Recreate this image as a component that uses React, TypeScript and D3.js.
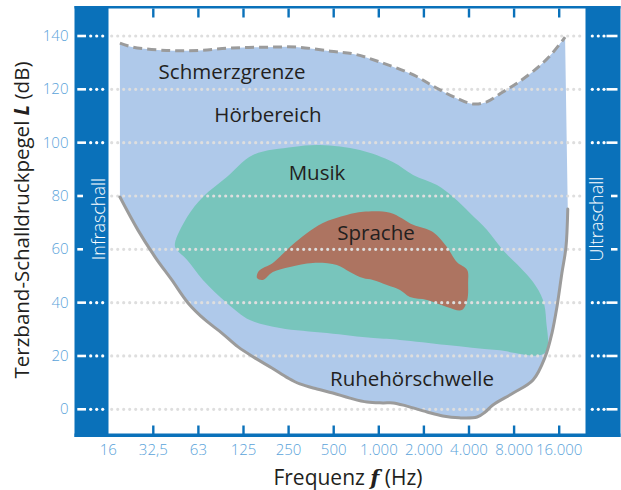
import React from "react";
import * as d3 from "d3";

// ---------- data ----------
const xTickLabels = ["16", "32,5", "63", "125", "250", "500", "1.000", "2.000", "4.000", "8.000", "16.000"];
const yTicks = [0, 20, 40, 60, 80, 100, 120, 140];

// Schmerzgrenze (octave index from 16 Hz, dB)
const painOct = [0.26, 0.55, 1.29, 2.02, 2.74, 3.49, 4.21, 4.93, 5.46, 6.03, 6.78, 7.28, 7.72, 8.09, 8.38, 8.75, 9.1, 9.54, 9.85, 10.13];
const painDb = [137.3, 135.8, 134.6, 134.6, 135.5, 135.8, 135.8, 134.3, 133.2, 130.2, 125.3, 120.5, 116.7, 114.5, 115.2, 119, 122.7, 128.4, 133.6, 139.6];

// Ruhehörschwelle
const threshOct = [0.26, 0.66, 1.04, 1.41, 1.77, 2.15, 2.52, 2.88, 3.26, 3.63, 3.99, 4.25, 4.63, 4.98, 5.36, 5.74, 6.09, 6.32, 6.62, 7.07, 7.42, 7.78, 8.18, 8.36, 8.53, 8.98, 9.42, 9.69, 9.84, 9.95, 10.06, 10.15, 10.19];
const threshDb = [79.6, 67.2, 57.1, 48.5, 39.9, 33.5, 28.6, 23.4, 19.2, 15.5, 11.7, 9.5, 7.6, 6.1, 4.2, 2.7, 2.4, 2.4, 1.2, -1.0, -2.5, -3.2, -2.9, -1.0, 1.6, 6.1, 11.0, 19.7, 28.6, 38.4, 51.1, 60.8, 75.1];

// Musik (closed outline)
const musicOct = [1.48, 1.75, 2.1, 2.63, 3.21, 4.1, 4.7, 5.58, 6.31, 6.76, 7.29, 7.65, 8.02, 8.4, 8.75, 9.13, 9.42, 9.64, 9.71, 9.68, 8.62, 7.51, 6.47, 5.88, 4.85, 3.81, 3.14, 2.63, 2.1, 1.75, 1.5];
const musicDb = [62.3, 72.1, 79.6, 87.1, 95.4, 98.4, 99.1, 97.2, 92.7, 87.9, 84.1, 79.6, 73.6, 67.2, 59.7, 53.3, 47.7, 41.0, 33.5, 21.1, 22.2, 24.1, 26.0, 26.7, 28.6, 30.5, 33.5, 39.9, 48.5, 56.0, 60.3];

// Sprache (closed outline)
const speechOct = [3.3, 3.34, 3.65, 4.03, 4.41, 4.76, 5.29, 5.65, 6.25, 6.76, 7.2, 7.51, 7.73, 7.96, 7.98, 7.96, 7.84, 7.51, 7.07, 6.69, 6.47, 6.18, 5.87, 5.65, 5.36, 5.07, 4.54, 4.03, 3.65, 3.43];
const speechDb = [49.2, 51.9, 54.9, 60.9, 66.1, 69.9, 72.9, 74.1, 73.7, 69.2, 66.5, 60.9, 55.2, 52.2, 47.4, 41.0, 37.2, 38.4, 41.0, 42.1, 44.7, 46.6, 48.5, 49.2, 51.5, 54.1, 54.9, 53.4, 51.5, 48.5];

// ---------- layout ----------
const W = 621;
const H = 490;
const FONT = "'Open Sans', sans-serif";
const BLUE = "#0a71ba";
const TICKBLUE = "#5aa3da";
const LIGHT = "#afc9ea";
const TEAL = "#78c5bc";
const BROWN = "#ad7461";
const GRAYLINE = "#9b9b9b";
const GRID = "#dedede";
const TEXT = "#231f20";

const plotL = 108.5;
const plotR = 585.5;
const plotT = 8.5;
const plotB = 434.5;

export default function App() {
  const x = d3.scaleLinear().domain([0, 10]).range([108.2, 559.2]);
  const y = d3.scaleLinear().domain([0, 140]).range([409.3, 36]);

  const toPts = (xs: number[], ys: number[]) => xs.map((v, i) => [x(v), y(ys[i])] as [number, number]);
  const open = d3.line().curve(d3.curveCatmullRom.alpha(0.5));
  const closed = d3.line().curve(d3.curveCatmullRomClosed.alpha(0.5));

  const painPts = toPts(painOct, painDb);
  const threshPts = toPts(threshOct, threshDb);
  const hearPath =
    (open(painPts) as string) +
    (open(threshPts.slice().reverse()) as string).replace(/^M/, "L") +
    "Z";

  const musicPath = closed(toPts(musicOct, musicDb)) as string;
  const speechPath = closed(toPts(speechOct, speechDb)) as string;

  const leftBandL = 74.5;
  const rightBandR = 620.5;

  return (
    <svg width={W} height={H} style={{ position: "absolute", left: 0, top: 0, background: "#fff" }} fontFamily={FONT}>
      {/* frame bands */}
      <rect x={leftBandL} y={6} width={plotL - leftBandL} height={431} fill={BLUE} />
      <rect x={plotR} y={6} width={rightBandR - plotR} height={431} fill={BLUE} />
      <rect x={leftBandL} y={6} width={rightBandR - leftBandL} height={plotT - 6} fill={BLUE} />
      <rect x={leftBandL} y={plotB - 1} width={rightBandR - leftBandL} height={437 - plotB + 1} fill={BLUE} />

      {/* areas */}
      <path d={hearPath} fill={LIGHT} />
      <path d={musicPath} fill={TEAL} />
      <path d={speechPath} fill={BROWN} />

      {/* grid dotted lines */}
      {yTicks.map((t) => (
        <line
          key={"g" + t}
          x1={111.7}
          x2={583}
          y1={y(t)}
          y2={y(t)}
          stroke={GRID}
          strokeWidth={3.2}
          strokeLinecap="round"
          strokeDasharray="0 6"
        />
      ))}

      {/* band tick marks */}
      {yTicks.map((t) => {
        const yy = y(t);
        const inText = t === 60 || t === 80;
        return (
          <g key={"b" + t} stroke="#fff" strokeWidth={2.6}>
            <line x1={77.3} x2={inText ? 83 : 86} y1={yy} y2={yy} />
            {!inText &&
              [90.7, 96.7, 102.7].map((dx) => (
                <circle key={dx} cx={dx} cy={yy} r={1.6} fill="#fff" stroke="none" />
              ))}
            <line x1={inText ? 611 : 606.5} x2={617.5} y1={yy} y2={yy} />
            {!inText &&
              [592.3, 598.3, 604].map((dx) => (
                <circle key={dx} cx={dx} cy={yy} r={1.6} fill="#fff" stroke="none" />
              ))}
          </g>
        );
      })}

      {/* x ticks (bottom and top) */}
      {xTickLabels.map((lab, i) =>
        i === 0 ? null : (
          <g key={"xt" + i} stroke={BLUE} strokeWidth={2.4}>
            <line x1={x(i)} x2={x(i)} y1={plotB} y2={plotB - 9} />
            <line x1={x(i)} x2={x(i)} y1={plotT} y2={plotT + 9} />
          </g>
        )
      )}

      {/* curves */}
      <path d={open(threshPts) as string} fill="none" stroke={GRAYLINE} strokeWidth={3} strokeLinecap="round" />
      <path d={open(painPts) as string} fill="none" stroke={GRAYLINE} strokeWidth={3} strokeDasharray="9 5" />

      {/* region labels */}
      <g fill={TEXT} fontSize={20.5} textAnchor="middle">
        <text x={232} y={79}>Schmerzgrenze</text>
        <text x={268} y={122}>Hörbereich</text>
        <text x={317} y={180}>Musik</text>
        <text x={376} y={240}>Sprache</text>
        <text x={412} y={386}>Ruhehörschwelle</text>
      </g>

      {/* band texts */}
      <text transform="translate(105,219) rotate(-90)" fill="#fff" fontSize={18} fontWeight={300} textAnchor="middle">
        Infraschall
      </text>
      <text transform="translate(603,219) rotate(-90)" fill="#fff" fontSize={18} fontWeight={300} textAnchor="middle">
        Ultraschall
      </text>

      {/* y tick labels */}
      {yTicks.map((t) => (
        <text key={"yl" + t} x={68.5} y={y(t) + 5} fill={TICKBLUE} fontSize={15} fontWeight={300} textAnchor="end">
          {t}
        </text>
      ))}

      {/* x tick labels */}
      {xTickLabels.map((lab, i) => (
        <text key={"xl" + i} x={x(i)} y={455} fill={TICKBLUE} fontSize={15} fontWeight={300} textAnchor="middle">
          {lab}
        </text>
      ))}

      {/* axis titles */}
      <text x={348} y={484.5} fill={TEXT} fontSize={21} textAnchor="middle">
        Frequenz <tspan fontStyle="italic" fontWeight="bold" fontFamily="'DejaVu Serif', serif">f</tspan> (Hz)
      </text>
      <text transform="translate(28.5,220) rotate(-90)" fill={TEXT} fontSize={20.5} textAnchor="middle">
        Terzband-Schalldruckpegel <tspan fontStyle="italic" fontWeight="bold">L</tspan> (dB)
      </text>
    </svg>
  );
}
